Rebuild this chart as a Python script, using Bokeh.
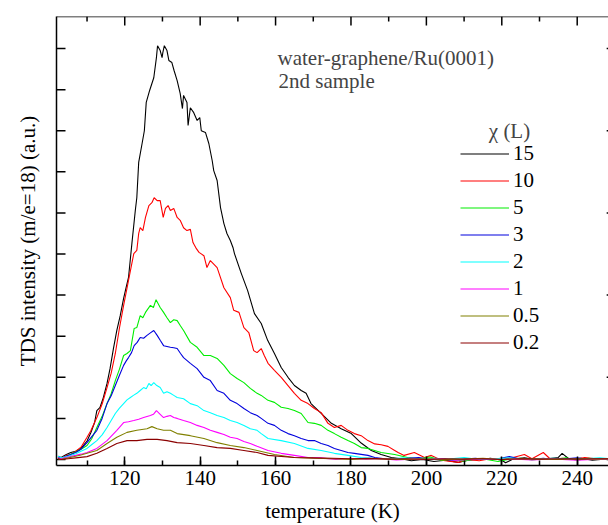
import math
from bokeh.plotting import figure
from bokeh.models import (Range1d, FixedTicker, Legend, LegendItem, Label, Span, LinearAxis)
from bokeh.embed import file_html
from bokeh.resources import INLINE

# ---------------- data ----------------
doses = ["15", "10", "5", "3", "2", "1", "0.5", "0.2"]
colors = ["#000000", "#ff0000", "#00ee00", "#0000dd", "#00ffff", "#ff00ff", "#808000", "#8b0000"]

t15 = [102.3, 103.1, 104.5, 105.7, 107.0, 108.4, 110.0, 111.0, 112.0, 112.6, 113.4, 114.3, 115.3, 116.1, 117.0,
       117.9, 118.8, 119.7, 120.4, 121.0, 121.9, 122.8, 123.2, 123.7, 124.6, 125.2, 125.7, 126.6, 127.7, 128.4,
       128.7, 129.4, 129.9, 130.1, 130.5, 131.2, 131.7, 132.5, 133.1, 133.9, 134.7, 135.3, 135.6, 136.5, 136.8,
       137.4, 138.3, 139.2, 139.9, 140.3, 141.4, 142.3, 143.2, 143.6, 144.5, 145.4, 146.3, 147.1, 148.0, 148.7,
       149.1, 150.9, 152.6, 154.4, 156.2, 157.9, 159.7, 161.5, 163.3, 165.0, 166.8, 168.1, 169.4, 172.1, 174.8,
       177.4, 180.1, 182.7, 185.4, 188.0, 190.7, 193.3, 196.0, 199.0, 202.0, 205.0, 208.5, 211.0, 214.0, 217.0,
       220.0, 221.0, 223.0, 226.0, 229.0, 232.0, 235.0, 236.0, 238.0, 241.0, 244.0, 247.0, 250.0]
i15 = [0.08, 0.05, 0.12, 0.17, 0.20, 0.27, 0.45, 0.65, 0.90, 1.19, 1.26, 1.50, 1.85, 2.21, 2.70,
       3.14, 3.50, 3.92, 4.20, 4.43, 5.26, 6.06, 6.37, 7.23, 7.69, 8.00, 8.69, 8.98, 9.29, 9.78,
       10.07, 9.95, 9.78, 9.90, 10.07, 9.95, 9.71, 9.66, 9.46, 9.22, 8.91, 8.54, 8.86, 8.69, 8.13,
       8.56, 8.44, 8.25, 8.32, 8.00, 7.96, 7.69, 7.27, 7.03, 6.79, 6.13, 5.74, 5.50, 5.33, 5.16,
       5.01, 4.53, 4.11, 3.55, 3.31, 2.90, 2.58, 2.24, 2.00, 1.80, 1.68, 1.61, 1.36, 1.12, 0.88,
       0.75, 0.63, 0.40, 0.22, 0.12, 0.05, 0.02, -0.03, 0.00, -0.05, -0.02, -0.07, -0.02, 0.00, 0.03,
       -0.02, -0.08, 0.01, 0.04, 0.00, 0.02, 0.05, 0.15, 0.00, 0.03, -0.02, 0.01, 0.02]

t10 = [102.3, 103.1, 104.5, 105.7, 107.0, 108.4, 110.0, 111.0, 112.0, 112.6, 114.0, 115.3, 116.4, 117.5, 118.6,
       119.7, 121.0, 122.4, 123.2, 123.7, 124.1, 124.8, 125.5, 126.4, 127.2, 127.8, 128.6, 129.4, 130.2, 130.8,
       131.5, 132.1, 133.0, 133.9, 134.7, 135.6, 136.5, 137.4, 138.1, 139.0, 139.7, 141.0, 141.8, 142.7, 144.5,
       146.3, 148.0, 148.9, 150.3, 151.6, 152.9, 154.2, 155.1, 156.2, 157.0, 158.0, 159.7, 161.5, 163.3, 165.0,
       166.8, 168.6, 170.3, 172.1, 173.9, 175.6, 177.4, 179.2, 180.9, 182.7, 184.5, 186.3, 188.0, 189.8, 191.6,
       192.5, 194.1, 196.8, 199.5, 201.3, 204.0, 208.5, 211.0, 214.0, 217.0, 220.0, 223.0, 226.0, 228.0, 231.0,
       233.0, 236.0, 239.0, 242.0, 245.0, 248.0, 250.0]
i10 = [0.05, 0.03, 0.10, 0.12, 0.20, 0.30, 0.54, 0.70, 0.90, 1.02, 1.35, 1.75, 2.10, 2.58, 3.20,
       3.75, 4.36, 5.01, 5.09, 5.50, 5.64, 5.57, 5.89, 6.18, 6.25, 6.37, 6.30, 6.30, 5.89, 6.11,
       6.18, 6.06, 6.11, 5.89, 5.82, 5.64, 5.57, 5.60, 5.28, 5.13, 5.04, 4.96, 4.67, 4.84, 4.67,
       4.18, 3.94, 3.63, 3.58, 3.21, 3.09, 2.65, 2.60, 2.70, 2.53, 2.34, 2.17, 2.00, 1.80, 1.61,
       1.44, 1.36, 1.24, 1.14, 0.88, 0.78, 0.83, 0.71, 0.63, 0.58, 0.46, 0.38, 0.36, 0.32, 0.22,
       0.17, 0.10, 0.17, 0.05, 0.10, -0.02, -0.07, 0.00, -0.03, 0.02, 0.00, 0.05, 0.12, 0.02, 0.17,
       0.00, 0.03, 0.00, 0.05, 0.02, 0.00, 0.03]

t5 = [102.3, 103.1, 105.0, 107.0, 108.4, 110.0, 111.2, 112.6, 114.0, 115.3, 116.4, 117.5, 118.6, 119.7, 120.6,
      121.5, 122.5, 123.2, 124.1, 124.8, 125.5, 126.8, 127.6, 128.3, 129.4, 130.3, 131.2, 132.1, 133.0, 133.9,
      134.8, 135.6, 137.4, 139.2, 141.0, 142.7, 144.5, 146.3, 148.0, 149.8, 151.6, 153.3, 155.1, 156.2, 158.0,
      159.7, 161.5, 163.3, 165.0, 166.8, 168.6, 170.3, 172.1, 173.9, 175.6, 177.4, 179.2, 180.9, 182.7, 184.5,
      188.0, 191.6, 195.0, 198.0, 201.0, 204.0, 207.0, 210.0, 213.0, 216.0, 219.0, 222.0, 225.0, 228.0, 231.0,
      234.0, 237.0, 240.0, 243.0, 246.0, 250.0]
i5 = [0.05, 0.02, 0.10, 0.18, 0.25, 0.34, 0.50, 0.78, 1.05, 1.36, 1.60, 1.92, 2.20, 2.53, 2.58,
      2.65, 3.19, 3.21, 3.50, 3.45, 3.58, 3.75, 3.70, 3.89, 3.70, 3.58, 3.45, 3.33, 3.40, 3.38,
      3.25, 3.14, 2.85, 2.73, 2.53, 2.53, 2.46, 2.29, 2.09, 1.97, 1.87, 1.73, 1.61, 1.56, 1.44,
      1.39, 1.27, 1.24, 1.19, 1.12, 0.90, 0.88, 0.83, 0.71, 0.63, 0.54, 0.46, 0.39, 0.29, 0.27,
      0.17, 0.12, 0.05, 0.02, 0.06, -0.02, 0.01, -0.04, 0.02, 0.00, -0.05, 0.01, 0.03, -0.01, 0.02,
      0.00, 0.04, -0.02, 0.03, 0.00, 0.02]

t3 = [102.3, 103.1, 105.0, 107.0, 108.4, 110.0, 111.2, 112.6, 114.0, 115.3, 116.4, 117.5, 118.6, 119.7, 120.4,
      121.0, 121.8, 122.5, 123.3, 124.1, 125.0, 125.9, 126.8, 127.7, 128.6, 129.4, 130.3, 131.2, 132.1, 133.0,
      133.9, 134.8, 135.6, 137.4, 139.2, 141.0, 142.7, 144.5, 146.3, 148.0, 149.8, 151.6, 153.3, 155.1, 156.2,
      158.0, 159.7, 161.5, 163.3, 165.0, 166.8, 168.6, 170.3, 172.1, 173.9, 175.6, 177.4, 179.2, 180.9, 184.5,
      186.3, 189.0, 192.0, 195.0, 198.0, 201.0, 204.0, 207.0, 210.0, 213.0, 216.0, 219.0, 222.0, 225.0, 228.0,
      231.0, 234.0, 237.0, 240.0, 243.0, 246.0, 250.0]
i3 = [0.06, 0.03, 0.10, 0.17, 0.25, 0.41, 0.55, 0.71, 1.00, 1.36, 1.55, 1.80, 2.05, 2.29, 2.40,
      2.48, 2.60, 2.77, 2.85, 2.97, 2.95, 3.02, 3.08, 3.14, 3.02, 2.90, 2.77, 2.75, 2.73, 2.72,
      2.70, 2.58, 2.48, 2.34, 2.21, 2.00, 1.92, 1.68, 1.61, 1.44, 1.36, 1.24, 1.14, 1.07, 1.00,
      0.88, 0.83, 0.71, 0.63, 0.58, 0.51, 0.46, 0.46, 0.39, 0.34, 0.27, 0.22, 0.17, 0.15, 0.10,
      0.05, 0.02, 0.00, 0.03, 0.05, 0.00, 0.02, -0.02, 0.01, 0.03, 0.00, 0.02, 0.07, 0.01, 0.00,
      0.03, 0.00, 0.02, 0.04, 0.00, 0.02, 0.01]

t2 = [102.3, 103.1, 105.0, 107.0, 108.4, 110.0, 111.2, 112.6, 114.0, 115.3, 116.4, 117.5, 118.6, 119.7, 120.6,
      121.5, 122.3, 123.2, 124.1, 125.0, 125.7, 126.4, 127.0, 127.7, 128.5, 129.4, 130.3, 131.2, 132.1, 133.0,
      133.9, 135.6, 137.4, 139.2, 141.0, 142.7, 144.5, 146.3, 148.0, 149.8, 151.6, 153.3, 155.1, 156.2, 158.0,
      161.5, 165.0, 168.6, 172.1, 175.6, 179.2, 182.7, 186.0, 190.0, 194.0, 198.0, 202.0, 206.0, 210.0, 214.0,
      218.0, 222.0, 226.0, 230.0, 234.0, 238.0, 242.0, 246.0, 250.0]
i2 = [0.08, 0.04, 0.08, 0.14, 0.20, 0.27, 0.36, 0.46, 0.60, 0.78, 0.95, 1.12, 1.25, 1.36, 1.45,
      1.51, 1.56, 1.61, 1.68, 1.75, 1.72, 1.85, 1.80, 1.87, 1.80, 1.75, 1.61, 1.65, 1.61, 1.56,
      1.51, 1.48, 1.36, 1.31, 1.19, 1.14, 1.07, 1.02, 0.95, 0.90, 0.83, 0.75, 0.71, 0.63, 0.51,
      0.46, 0.39, 0.27, 0.22, 0.15, 0.10, 0.05, 0.03, 0.01, 0.04, 0.00, 0.03, 0.01, 0.05, 0.00,
      0.02, 0.04, 0.00, 0.02, 0.03, 0.00, 0.02, 0.04, 0.01]

t1 = [102.3, 103.1, 105.0, 107.0, 108.4, 110.0, 112.6, 115.3, 117.9, 119.7, 121.0, 122.4, 123.7, 125.0, 126.8,
      127.6, 128.4, 129.4, 130.3, 131.2, 132.1, 133.0, 133.9, 135.6, 137.4, 139.2, 141.0, 142.7, 144.5, 146.3,
      148.0, 149.8, 151.6, 153.3, 155.1, 158.0, 161.5, 165.0, 168.6, 172.0, 176.0, 180.0, 184.0, 188.0, 192.0,
      196.0, 200.0, 204.0, 208.0, 212.0, 216.0, 220.0, 224.0, 228.0, 232.0, 236.0, 240.0, 244.0, 250.0]
i1 = [0.04, 0.02, 0.06, 0.10, 0.13, 0.17, 0.27, 0.46, 0.71, 0.90, 0.92, 0.95, 0.98, 1.02, 1.07,
      1.10, 1.19, 1.10, 1.02, 1.05, 1.07, 1.02, 1.00, 0.95, 0.90, 0.83, 0.78, 0.71, 0.66, 0.61,
      0.54, 0.51, 0.44, 0.39, 0.32, 0.22, 0.15, 0.10, 0.05, 0.04, 0.00, 0.02, 0.00, 0.02, -0.01,
      0.01, 0.00, 0.02, -0.02, 0.00, 0.02, 0.00, 0.01, -0.01, 0.01, 0.00, -0.02, 0.00, 0.01]

t05 = [102.3, 103.1, 105.0, 107.0, 108.4, 110.0, 112.6, 115.3, 117.9, 120.6, 123.2, 125.9, 127.2, 128.6, 130.3,
       132.1, 133.9, 137.4, 141.0, 144.5, 148.0, 151.6, 155.1, 159.7, 165.0, 170.0, 175.0, 180.0, 185.0, 190.0,
       195.0, 200.0, 205.0, 210.0, 215.0, 220.0, 225.0, 230.0, 235.0, 240.0, 245.0, 250.0]
i05 = [0.02, 0.00, 0.04, 0.08, 0.11, 0.15, 0.22, 0.39, 0.54, 0.66, 0.71, 0.75, 0.80, 0.75, 0.71,
       0.71, 0.63, 0.58, 0.51, 0.41, 0.34, 0.29, 0.22, 0.12, 0.05, 0.03, 0.02, 0.00, 0.02, 0.01,
       0.00, 0.02, 0.00, 0.01, 0.03, 0.00, 0.02, 0.01, 0.00, 0.02, 0.01, 0.02]

t02 = [102.3, 103.1, 105.0, 107.0, 110.0, 112.6, 115.3, 117.9, 120.6, 123.2, 125.9, 128.6, 131.2, 133.9, 137.4,
       141.0, 144.5, 148.0, 151.6, 155.1, 158.0, 165.0, 170.0, 175.0, 180.0, 185.0, 190.0, 195.0, 200.0, 205.0,
       210.0, 215.0, 220.0, 225.0, 230.0, 235.0, 240.0, 245.0, 250.0]
i02 = [0.02, 0.00, 0.02, 0.04, 0.07, 0.15, 0.27, 0.39, 0.46, 0.46, 0.49, 0.49, 0.46, 0.41, 0.39,
       0.34, 0.29, 0.27, 0.22, 0.17, 0.10, 0.05, 0.04, 0.03, 0.02, 0.03, 0.01, 0.02, 0.00, 0.02,
       0.01, 0.02, 0.00, 0.02, 0.01, 0.02, 0.01, 0.02, 0.02]

series_t = [t15, t10, t5, t3, t2, t1, t05, t02]
series_i = [i15, i10, i5, i3, i2, i1, i05, i02]

x_major = [120, 140, 160, 180, 200, 220, 240]
x_minor = [110, 130, 150, 170, 190, 210, 230, 250]
y_left_ticks = [0, 1, 2, 3, 4, 5, 6, 7, 8, 9, 10]
y_right_ticks = [0, 2, 4, 6, 8, 10]

X0, X1 = 101.9, 248.3
Y0, Y1 = -0.146, 10.78
X_RIGHT_AXIS = 250.2   # right frame edge of the original (just outside the window)

FONT = "Liberation Serif"
FS = "21px"

p = figure(width=608, height=525, output_backend="svg", toolbar_location=None,
           x_range=Range1d(X0, X1), y_range=Range1d(Y0, Y1),
           y_axis_location=None,
           min_border_left=56, min_border_top=16, min_border_right=0, min_border_bottom=60)
p.outline_line_color = None
p.xgrid.visible = False
p.ygrid.visible = False
p.background_fill_color = "white"
p.border_fill_color = "white"

# bottom axis
xa = p.xaxis[0]
xa.ticker = FixedTicker(ticks=x_major, minor_ticks=x_major + x_minor)
xa.major_tick_in = 9
xa.major_tick_out = 0
xa.minor_tick_in = 5
xa.minor_tick_out = 0
xa.axis_line_width = 1.5
xa.axis_line_color = "black"
xa.major_tick_line_width = 1.5
xa.minor_tick_line_width = 1.5
xa.major_tick_line_color = "black"
xa.minor_tick_line_color = "black"
xa.major_label_text_font = FONT
xa.major_label_text_font_size = FS
xa.major_label_text_color = "black"
xa.major_label_standoff = 5
xa.axis_label = "temperature (K)"
xa.axis_label_text_font = FONT
xa.axis_label_text_font_size = FS
xa.axis_label_text_font_style = "normal"
xa.axis_label_text_color = "black"
xa.axis_label_standoff = 11

# left axis: line + title only (its ticks are drawn as rays below)
ya = LinearAxis(ticker=FixedTicker(ticks=[]), axis_line_color="black", axis_line_width=1.5,
                major_tick_in=0, major_tick_out=0, minor_tick_in=0, minor_tick_out=0,
                major_label_standoff=0,
                axis_label="TDS intensity (m/e=18) (a.u.)", axis_label_text_font=FONT,
                axis_label_text_font_size=FS, axis_label_text_font_style="normal",
                axis_label_text_color="black", axis_label_standoff=17)
p.add_layout(ya, "left")

# top axis line
p.add_layout(Span(location=Y1, dimension="width", line_color="black", line_width=1.5))

# inward ticks on the left, top and right sides
p.ray(x=[X0] * len(y_left_ticks), y=y_left_ticks, length=9, length_units="screen", angle=0,
      line_color="black", line_width=1.5)
p.ray(x=x_major, y=[Y1] * len(x_major), length=9, length_units="screen", angle=-math.pi / 2,
      line_color="black", line_width=1.5)
p.ray(x=x_minor, y=[Y1] * len(x_minor), length=5, length_units="screen", angle=-math.pi / 2,
      line_color="black", line_width=1.5)
p.ray(x=[X_RIGHT_AXIS] * len(y_right_ticks), y=y_right_ticks, length=9, length_units="screen",
      angle=math.pi, line_color="black", line_width=1.5)

renderers = []
for t, v, c in zip(series_t, series_i, colors):
    r = p.line(t, v, line_color=c, line_width=1.1)
    renderers.append(r)

legend = Legend(items=[LegendItem(label=d, renderers=[r]) for d, r in zip(doses, renderers)],
                location=(404, 110), glyph_width=49, glyph_height=21, label_height=21,
                spacing=2, padding=0, margin=0, border_line_color=None,
                background_fill_alpha=0, label_text_font=FONT, label_text_font_size=FS,
                label_text_color="black", label_standoff=4)
p.add_layout(legend)

p.add_layout(Label(x=453, y=335, x_units="screen", y_units="screen", text="χ (L)",
                   text_font=FONT, text_font_size=FS, text_align="center", text_baseline="middle"))
p.add_layout(Label(x=221, y=408, x_units="screen", y_units="screen", text="water-graphene/Ru(0001)",
                   text_font=FONT, text_font_size=FS, text_baseline="middle"))
p.add_layout(Label(x=222, y=385, x_units="screen", y_units="screen", text="2nd sample",
                   text_font=FONT, text_font_size=FS, text_baseline="middle"))

open("out.html", "w").write(file_html(p, INLINE))
